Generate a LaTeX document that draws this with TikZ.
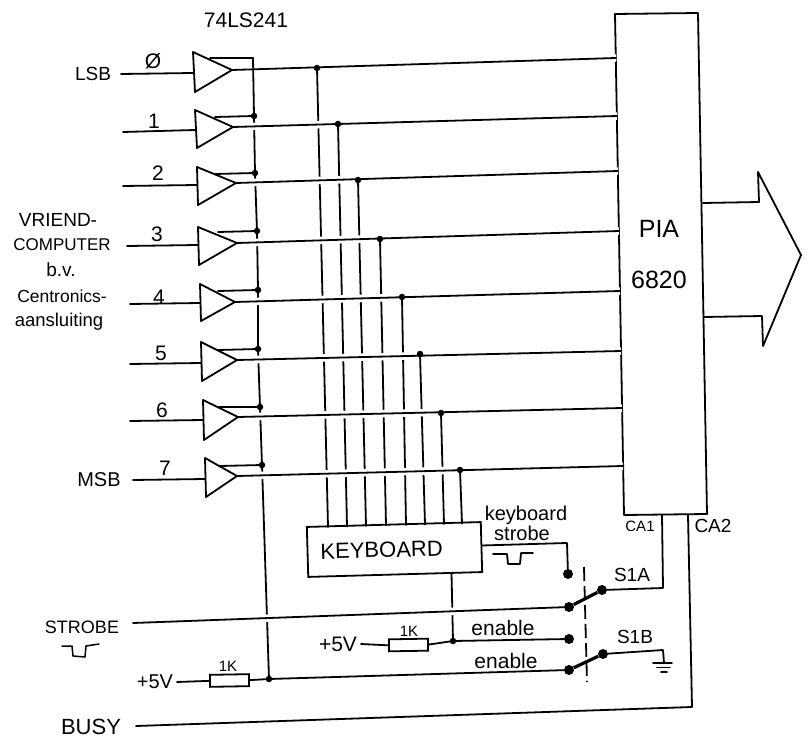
\documentclass[tikz,border=0pt]{standalone}
\usepackage{fontspec}
\setmainfont{Liberation Sans}
\tikzset{
  wire/.style={line width=1.8pt,line cap=round,line join=round},
  thruwire/.style={wire,preaction={draw=white,line width=7.5pt,line cap=butt}},
  conn/.style={fill=black,circle,inner sep=0pt,minimum size=6.5pt},
  contact/.style={fill=black,circle,inner sep=0pt,minimum size=10pt},
  lab/.style={inner sep=0pt,font=\fontsize{19}{20}\selectfont},
  digit/.style={inner sep=0pt,font=\fontsize{21}{22}\selectfont},
  small/.style={inner sep=0pt,font=\fontsize{15}{16}\selectfont},
  resistor/.style={draw,line width=1.8pt,minimum width=39pt,minimum height=12pt,inner sep=0pt,outer sep=0pt,fill=white,rotate=1},
}
\begin{document}
\begin{tikzpicture}[x=1pt,y=-1pt]
\useasboundingbox (0,0) rectangle (809,738);
% index/top/bottom/tip/input start/input end/tap start/tap dot/line dot/line end/keyboard end
\foreach \i/\ax/\ay/\bx/\by/\tx/\ty/\sx/\sy/\ix/\iy/\ex/\ey/\dx/\dy/\mx/\my/\px/\py/\kx/\ky in {
 0/193/52/195/92/232/70/121/74/193/73/210/58/253/58/317/68/616/58/328/527,
 1/195/110/197/148/233/127/123/132/195/130/215/117/254/116/338/124/617/116/347/526.5,
 2/197/167/198/205/236/183/123/186/197/185/215/174/255/173/358/180/618/171/366/526,
 3/198/227/199/265/237/243/127/246/198/245/218/232/257/231/380/239/619/231/386/525.5,
 4/200/284/201/321/235/302/130/304/200/303/218/291/258/290/402/297/620/291/406/525,
 5/201/342/202/381/237/360/130/364/201/363/218/350/258/349/420/354/621/351/425/524.5,
 6/203/400/204/440/238/417/130/421/203/420/219/407/260/407/441/413/622/408/444/524,
 7/205/458/206/497/237/476/133/480/205/479/220/466/262/465/460/470/623/466/462/523.5}{
  \coordinate (a\i) at (\ax,\ay);
  \coordinate (b\i) at (\bx,\by);
  \coordinate (t\i) at (\tx,\ty);
  \coordinate (s\i) at (\sx,\sy);
  \coordinate (i\i) at (\ix,\iy);
  \coordinate (e\i) at (\ex,\ey);
  \coordinate (d\i) at (\dx,\dy);
  \coordinate (m\i) at (\mx,\my);
  \coordinate (p\i) at (\px,\py);
  \coordinate (k\i) at (\kx,\ky);
}

% PIA outline
\coordinate (piaTL) at (615,14);\coordinate (piaTR) at (698,13);\coordinate (piaBR) at (707,514);\coordinate (piaBL) at (624,515);
\draw[wire] (piaTL) -- (piaTR) -- (piaBR) -- (piaBL) -- cycle;

% keyboard
\node[draw,line width=1.8pt,rotate=1.6,minimum width=174pt,minimum height=50pt,outer sep=0pt,inner xsep=13pt,inner ysep=0pt,text width=148pt,align=left,font=\fontsize{22}{24}\selectfont] (kbd) at (394.5,549.5) {KEYBOARD};

% enable bus, below the first output
\coordinate (busEnd) at (269,679);
\draw[wire] (d1) -- (d2) -- (d3) -- (d4) -- (d5) -- (d6) -- (d7) -- (busEnd);
\coordinate (kbEn) at (451.5,573);
\coordinate (en1) at (453,641);
\draw[wire] (kbEn) -- (en1);

% outputs with their tapped verticals: each new line breaks the verticals already drawn
\foreach \i in {0,...,7}{
  \draw[thruwire] (t\i) -- (p\i);
  \draw[wire] (m\i) -- (k\i);
  \node[conn] (dotm\i) at (m\i) {};
}
\draw[wire] (d0) -- (d1);

% strobe line, crossing bus and keyboard enable
\coordinate (swA1) at (569,607);
\coordinate (swA2) at (602,590);
\node[contact] (cA1) at (swA1) {};
\node[contact] (cA2) at (swA2) {};
\coordinate (strobeL) at (133,623);
\draw[thruwire] (strobeL) -- (cA1);
\draw[line width=3.2pt] (cA1) -- (cA2);

% buffers
\foreach \i in {0,...,7}{
  \draw[wire] (a\i) -- (b\i) -- (t\i) -- cycle;
  \draw[wire] (s\i) -- (i\i);
  \draw[wire] (e\i) -- (d\i);
}
\foreach \i in {1,...,7}{ \node[conn] (dotd\i) at (d\i) {}; }

% PIA control lines
\coordinate (ca1a) at (662,515);\coordinate (ca1b) at (663,588);
\draw[wire] (ca1a) -- (ca1b) -- (cA2);
\coordinate (ca2a) at (688,515);\coordinate (ca2b) at (692,707);\coordinate (busyL) at (136,726);
\draw[wire] (ca2a) -- (ca2b) -- (busyL);

% keyboard strobe
\coordinate (ksA) at (482,545.5);\coordinate (ksB) at (567,543);
\node[contact] (cK) at (568,574) {};
\draw[wire] (ksA) -- (ksB) -- (cK);
\draw[wire] (493,554) -- (507,554) -- (508,564) -- (520,564) -- (521,553) -- (533,553);

% first enable
\node[resistor] (r1) at (408.5,645) {};
\coordinate (v1) at (361,644);
\node[contact] (cE1) at (569,639) {};
\node[conn] (dotE1) at (en1) {};
\draw[wire] (v1) -- (r1.west);
\draw[wire] (r1.east) -- (en1) -- (cE1);

% second enable
\node[resistor] (r2) at (229.5,680.5) {};
\coordinate (v2) at (177,682);
\node[contact] (cE2) at (569,670) {};
\node[contact] (cE3) at (603,654) {};
\node[conn] (dotBus) at (busEnd) {};
\draw[wire] (v2) -- (r2.west);
\draw[wire] (r2.east) -- (busEnd) -- (cE2);
\draw[line width=3.2pt] (cE2) -- (cE3);

% ground
\coordinate (gA) at (663,650);\coordinate (gB) at (664,663);
\draw[wire] (cE3) -- (gA) -- (gB);
\draw[wire] (653,663) -- (672,663);
\draw[wire] (657,667.5) -- (670,667.5);
\draw[wire] (661,672) -- (667,672);

% ganged switch
\coordinate (gangT) at (584,567);\coordinate (gangB) at (587,682);
\draw[line width=1.8pt,dash pattern=on 14pt off 5pt] (gangT) -- (gangB);

% big arrow
\coordinate (ar1) at (703,203);\coordinate (ar2) at (759,202);\coordinate (ar3) at (758,172);
\coordinate (ar4) at (801,255);\coordinate (ar5) at (763,346);\coordinate (ar6) at (762,316);\coordinate (ar7) at (704,317);
\draw[wire] (ar1) -- (ar2) -- (ar3) -- (ar4) -- (ar5) -- (ar6) -- (ar7);

% pulse under STROBE
\draw[wire,line width=1.5pt] (62,646) -- (72,646) -- (73,656) -- (85,657) -- (86,646) -- (99,644);

% labels
\node[lab,font=\fontsize{21}{22}\selectfont] (ttl) at (246,20) {74LS241};
\node[digit] (n0) at (153,61) {Ø};
\node[digit] (n1) at (154,121) {1};
\node[digit] (n2) at (158,173) {2};
\node[digit] (n3) at (157,234) {3};
\node[digit] (n4) at (159,297) {4};
\node[digit] (n5) at (161,353) {5};
\node[digit] (n6) at (162,410) {6};
\node[digit] (n7) at (165,468) {7};
\node[lab] (lsb) at (93,74) {LSB};
\node[lab,font=\fontsize{20}{22}\selectfont] (msb) at (99,480) {MSB};
\node[lab] (l1) at (58,220) {VRIEND-};
\node[lab,font=\fontsize{17}{18}\selectfont] (l2) at (62,245) {COMPUTER};
\node[lab] (l3) at (61,270) {b.v.};
\node[lab,font=\fontsize{17.5}{18}\selectfont] (l4) at (62,296) {Centronics-};
\node[lab,font=\fontsize{18.5}{20}\selectfont] (l5) at (59,322) {aansluiting};
\node[lab,font=\fontsize{25}{26}\selectfont] (pia) at (659,229) {PIA};
\node[lab,font=\fontsize{25}{26}\selectfont] (pnum) at (659,280) {6820};
\node[small] (ca1) at (640,526) {CA1};
\node[lab] (ca2) at (713,526) {CA2};
\node[lab] (sa) at (632,575) {S1A};
\node[lab] (sb) at (635,637) {S1B};
\node[lab,font=\fontsize{20}{22}\selectfont] (kb1) at (526,515) {keyboard};
\node[lab,font=\fontsize{20}{22}\selectfont] (kb2) at (522,533) {strobe};
\node[lab,font=\fontsize{21}{22}\selectfont] (enA) at (503,628) {enable};
\node[lab,font=\fontsize{21}{22}\selectfont] (enB) at (506,661) {enable};
\node[lab,font=\fontsize{18}{20}\selectfont] (strobe) at (82,627) {STROBE};
\node[lab,font=\fontsize{22}{24}\selectfont] (busy) at (91,727) {BUSY};
\node[lab,font=\fontsize{21}{22}\selectfont] (p1) at (338,644) {+5V};
\node[lab,font=\fontsize{20}{22}\selectfont] (p2) at (155,682) {+5V};
\node[small] (k1) at (409,631) {1K};
\node[small] (k2) at (228,666) {1K};
\end{tikzpicture}
\end{document}
